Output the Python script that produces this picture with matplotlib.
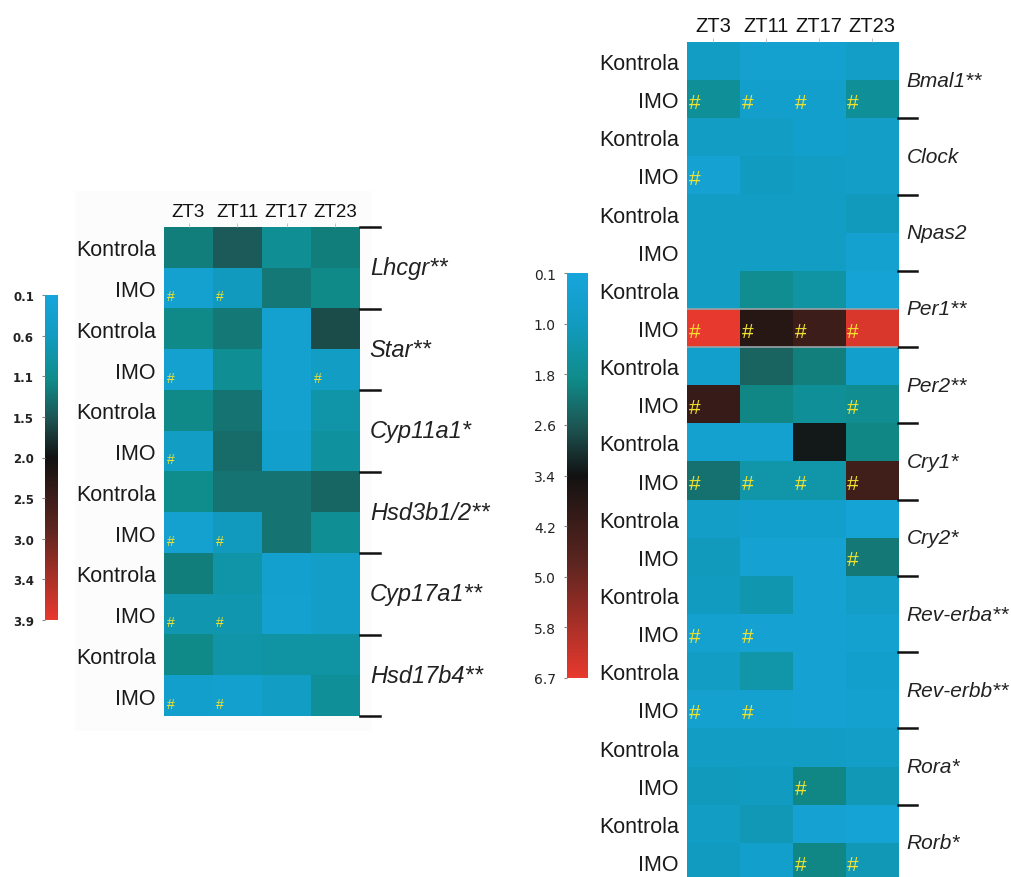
import numpy as np
import matplotlib
matplotlib.use("Agg")
import matplotlib.pyplot as plt
from matplotlib.colors import LinearSegmentedColormap
from matplotlib.patches import Rectangle

# ---------------- data ----------------
timepoints = ["ZT3", "ZT11", "ZT17", "ZT23"]
groups = ["Kontrola", "IMO"]

left_genes = ["Lhcgr**", "Star**", "Cyp11a1*", "Hsd3b1/2**", "Cyp17a1**", "Hsd17b4**"]
left_values = [
    [1.20, 1.50, 1.00, 1.20],  # Lhcgr K
    [0.30, 0.60, 1.25, 1.10],  # Lhcgr IMO
    [1.10, 1.25, 0.30, 1.60],  # Star K
    [0.30, 1.00, 0.30, 0.50],  # Star IMO
    [1.10, 1.30, 0.30, 0.80],  # Cyp11a1 K
    [0.50, 1.35, 0.40, 0.90],  # Cyp11a1 IMO
    [1.05, 1.30, 1.30, 1.40],  # Hsd3b1/2 K
    [0.30, 0.60, 1.30, 1.00],  # Hsd3b1/2 IMO
    [1.20, 0.80, 0.35, 0.45],  # Cyp17a1 K
    [0.75, 0.75, 0.30, 0.45],  # Cyp17a1 IMO
    [1.10, 0.80, 0.85, 0.85],  # Hsd17b4 K
    [0.40, 0.35, 0.50, 0.95],  # Hsd17b4 IMO
]
left_sig = [
    [0, 0, 0, 0], [1, 1, 0, 0],
    [0, 0, 0, 0], [1, 0, 0, 1],
    [0, 0, 0, 0], [1, 0, 0, 0],
    [0, 0, 0, 0], [1, 1, 0, 0],
    [0, 0, 0, 0], [1, 1, 0, 0],
    [0, 0, 0, 0], [1, 1, 0, 0],
]
left_cbar_labels = ["0.1", "0.6", "1.1", "1.5", "2.0", "2.5", "3.0", "3.4", "3.9"]

right_genes = ["Bmal1**", "Clock", "Npas2", "Per1**", "Per2**", "Cry1*", "Cry2*",
               "Rev-erba**", "Rev-erbb**", "Rora*", "Rorb*"]
right_values = [
    [0.8, 0.5, 0.5, 0.7],  # Bmal1 K
    [1.6, 0.6, 0.6, 1.6],  # Bmal1 IMO
    [0.8, 0.8, 0.6, 0.7],  # Clock K
    [0.4, 0.9, 0.8, 0.7],  # Clock IMO
    [0.8, 0.8, 0.8, 1.0],  # Npas2 K
    [0.8, 0.8, 0.8, 0.5],  # Npas2 IMO
    [0.8, 1.7, 1.4, 0.3],  # Per1 K
    [6.7, 3.8, 4.2, 6.5],  # Per1 IMO
    [0.6, 2.4, 2.0, 0.6],  # Per2 K
    [4.1, 1.9, 1.6, 1.7],  # Per2 IMO
    [0.5, 0.5, 3.3, 1.9],  # Cry1 K
    [2.2, 1.3, 1.3, 4.3],  # Cry1 IMO
    [0.7, 0.6, 0.6, 0.3],  # Cry2 K
    [1.0, 0.4, 0.4, 2.1],  # Cry2 IMO
    [0.9, 1.2, 0.4, 0.7],  # Rev-erba K
    [0.5, 0.4, 0.4, 0.5],  # Rev-erba IMO
    [0.8, 1.3, 0.4, 0.6],  # Rev-erbb K
    [0.5, 0.5, 0.4, 0.5],  # Rev-erbb IMO
    [0.8, 0.8, 0.8, 0.7],  # Rora K
    [1.0, 0.9, 1.9, 1.1],  # Rora IMO
    [0.8, 1.1, 0.4, 0.3],  # Rorb K
    [0.9, 0.6, 1.9, 1.1],  # Rorb IMO
]
right_sig = [
    [0, 0, 0, 0], [1, 1, 1, 1],
    [0, 0, 0, 0], [1, 0, 0, 0],
    [0, 0, 0, 0], [0, 0, 0, 0],
    [0, 0, 0, 0], [1, 1, 1, 1],
    [0, 0, 0, 0], [1, 0, 0, 1],
    [0, 0, 0, 0], [1, 1, 1, 1],
    [0, 0, 0, 0], [0, 0, 0, 1],
    [0, 0, 0, 0], [1, 1, 0, 0],
    [0, 0, 0, 0], [1, 1, 0, 0],
    [0, 0, 0, 0], [0, 0, 1, 0],
    [0, 0, 0, 0], [0, 0, 1, 1],
]
right_cbar_labels = ["0.1", "1.0", "1.8", "2.6", "3.4", "4.2", "5.0", "5.8", "6.7"]

# ---------------- style ----------------
cmap = LinearSegmentedColormap.from_list(
    "bbr",
    [(0.0, "#17a6dc"), (0.12, "#129cc2"), (0.26, "#0f8c8a"), (0.38, "#1d5553"),
     (0.5, "#121212"), (0.72, "#5e2620"), (1.0, "#e8392e")])

row_font = dict(family="Liberation Sans", fontsize=15.5)

W, H = 1011, 878
fig = plt.figure(figsize=(W / 100, H / 100), dpi=100)


def fax(x0, y0, x1, y1):
    return fig.add_axes([x0 / W, 1 - y1 / H, (x1 - x0) / W, (y1 - y0) / H])


# very faint panel background on the left
fig.patches.append(Rectangle((75 / W, 1 - 732 / H), (372 - 75) / W, (732 - 192) / H,
                             transform=fig.transFigure, facecolor="#fcfcfc",
                             edgecolor="none", zorder=-10))


def draw_heatmap(ax, values, sig, genes, vmin, vmax, gene_size,
                 hash_size, hash_dx, hash_dy, top_line, line_len, gene_x, zt_size):
    arr = np.array(values, dtype=float)
    nrows = arr.shape[0]
    ax.imshow(arr, cmap=cmap, vmin=vmin, vmax=vmax, aspect="auto",
              interpolation="nearest", extent=(0, 4, nrows, 0))
    ax.set_xlim(0, 4)
    ax.set_ylim(nrows, 0)
    ax.xaxis.tick_top()
    ax.set_xticks(np.arange(4) + 0.5)
    ax.set_xticklabels(timepoints, family="Liberation Sans", fontsize=zt_size, color="#111111")
    ax.tick_params(axis="x", length=3, width=0.6, color="#bbbbbb", pad=2)
    ax.set_yticks(np.arange(nrows) + 0.5)
    ax.set_yticklabels([groups[i % 2] for i in range(nrows)], color="#1a1a1a", **row_font)
    ax.tick_params(axis="y", length=0, pad=6)
    for s in ax.spines.values():
        s.set_visible(False)
    sig = np.array(sig)
    for r in range(nrows):
        for c in range(4):
            if sig[r, c]:
                ax.text(c + hash_dx, r + hash_dy, "#", color="#f2e230",
                        fontsize=hash_size, ha="left", va="center",
                        family="Liberation Sans")
    ngenes = len(genes)
    bounds = [2 * (g + 1) for g in range(ngenes)]
    if top_line:
        bounds = [0] + bounds
    for b in bounds:
        ax.plot([1.0, 1.0 + line_len], [b, b], color="#111111", lw=1.8,
                transform=ax.get_yaxis_transform(), clip_on=False)
    for g, name in enumerate(genes):
        ax.text(gene_x, 2 * g + 1, name, transform=ax.get_yaxis_transform(),
                ha="left", va="center", family="Liberation Sans", style="italic",
                fontsize=gene_size, color="#222222")


def draw_cbar(ax, vmin, vmax, labels, fsize, weight):
    grad = np.linspace(vmin, vmax, 256).reshape(-1, 1)
    ax.imshow(grad, cmap=cmap, vmin=vmin, vmax=vmax, aspect="auto",
              extent=(0, 1, vmax, vmin))
    ax.set_ylim(vmax, vmin)
    ax.set_xticks([])
    ticks = np.linspace(vmin, vmax, len(labels))
    ax.set_yticks(ticks)
    ax.set_yticklabels(labels, fontsize=fsize, fontweight=weight,
                       family="DejaVu Sans", color="#222222")
    ax.tick_params(axis="y", length=2, width=0.8, color="#888888", pad=6)
    for s in ax.spines.values():
        s.set_visible(False)


# left panel
axL = fax(164, 228, 360, 717)
draw_heatmap(axL, left_values, left_sig, left_genes, 0.1, 3.9, 17,
             hash_size=10, hash_dx=0.06, hash_dy=0.7, top_line=True,
             line_len=0.1, gene_x=1.05, zt_size=13.5)
cbL = fax(45, 296, 58, 621)
draw_cbar(cbL, 0.1, 3.9, left_cbar_labels, 8.5, "bold")

# right panel
axR = fax(687, 43, 898, 882)
draw_heatmap(axR, right_values, right_sig, right_genes, 0.1, 6.7, 15,
             hash_size=15, hash_dx=0.04, hash_dy=0.58, top_line=False,
             line_len=0.09, gene_x=1.04, zt_size=14.5)
# thin grey border lines around the Per1 IMO row
for yb in (7, 8):
    axR.axhline(yb, color="#9aa4a8", lw=1.2)
cbR = fax(567, 274, 587, 679)
draw_cbar(cbR, 0.1, 6.7, right_cbar_labels, 10, "normal")

fig.savefig("out.png", dpi=100)
